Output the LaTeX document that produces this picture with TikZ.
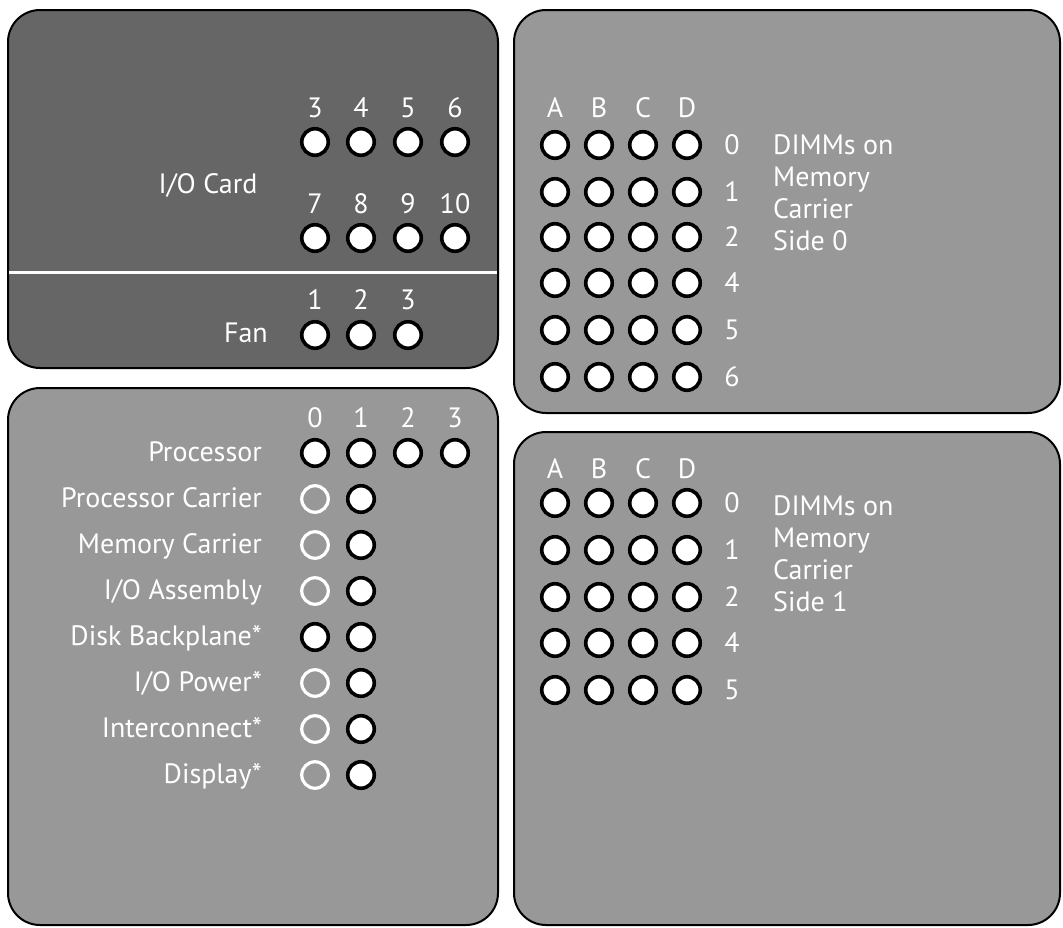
\documentclass[tikz,border=0pt]{standalone}
\usepackage{fontspec}
\setmainfont{PT Sans}
\usepackage{xcolor}
\usetikzlibrary{positioning}
\definecolor{paneldark}{HTML}{666666}
\definecolor{panellight}{HTML}{989898}

\begin{document}
\begin{tikzpicture}[x=1pt, y=-1pt, font=\fontsize{28}{32}\selectfont,
  panel/.style={draw=black, line width=2pt, rounded corners=32pt},
  led/.style={circle, draw=black, fill=white, line width=3.6pt, minimum size=26.5pt, inner sep=0},
  ledoff/.style={led, draw=white, fill=none, line width=3.2pt},
  num/.style={text=white, inner sep=0, anchor=base},
  rowlab/.style={text=white, inner sep=0, anchor=base east},
  blurb/.style={text=white, inner sep=0, anchor=base west, align=left}]
\useasboundingbox[fill=white] (0,0) rectangle (1063,927);
% Panel: I/O card and fans
\filldraw[panel, fill=paneldark] (8,10) rectangle (498,368);
\draw[white, line width=3pt] (9,272) -- (497,272);
\node[num] (iolab) at (208,193) {I/O Card};
\foreach \n/\x in {3/315,4/361,5/408,6/455} {
  \node[num] (ion\n) at (\x,117) {\n};
  \node[led] (io\n) at (\x,142) {};
}
\foreach \n/\x in {7/315,8/361,9/408,10/455} {
  \node[num] (ion\n) at (\x,213) {\n};
  \node[led] (io\n) at (\x,238) {};
}
\node[rowlab] (fanlab) at (268,342) {Fan};
\foreach \n/\x in {1/315,2/361,3/408} {
  \node[num] (fann\n) at (\x,309) {\n};
  \node[led] (fan\n) at (\x,335) {};
}
% Panel: processor and carriers
\filldraw[panel, fill=panellight] (8,388) rectangle (498,925);
\foreach \n/\x in {0/315,1/361,2/408,3/455} {
  \node[num] (procn\n) at (\x,427) {\n};
  \node[led] (proc\n) at (\x,453) {};
}
\node[rowlab] (proclab) at (262,461) {Processor};
\foreach \lab/\y/\st [count=\i] in {{Processor Carrier}/499/ledoff, {Memory Carrier}/545/ledoff,
    {I/O Assembly}/591/ledoff, {Disk Backplane*}/637/led, {I/O Power*}/683/ledoff,
    {Interconnect*}/729/ledoff, {Display*}/775/ledoff} {
  \node[rowlab] (fru\i) at (262,\y+8) {\lab};
  \node[\st] (fru\i a) at (315,\y) {};
  \node[led] (fru\i b) at (361,\y) {};
}
% Panel: DIMMs, side 0
\filldraw[panel, fill=panellight] (514,10) rectangle (1060,413);
\foreach \c/\x in {A/555,B/599,C/643,D/687} {
  \node[num] (s0\c) at (\x,117) {\c};
  \foreach \r/\y in {0/145,1/192,2/237,4/283,5/330,6/377}
    \node[led] (s0\c\r) at (\x,\y) {};
}
\foreach \r/\y in {0/145,1/192,2/237,4/283,5/330,6/377}
  \node[num] (s0row\r) at (732,\y+9) {\r};
\node[blurb] (s0lab) at (773,250) {DIMMs on\\Memory\\Carrier\\Side 0};
% Panel: DIMMs, side 1
\filldraw[panel, fill=panellight] (514,432) rectangle (1060,925);
\foreach \c/\x in {A/555,B/599,C/643,D/687} {
  \node[num] (s1\c) at (\x,478) {\c};
  \foreach \r/\y in {0/503,1/550,2/597,4/643,5/690}
    \node[led] (s1\c\r) at (\x,\y) {};
}
\foreach \r/\y in {0/503,1/550,2/597,4/643,5/690}
  \node[num] (s1row\r) at (732,\y+9) {\r};
\node[blurb] (s1lab) at (773,611) {DIMMs on\\Memory\\Carrier\\Side 1};
\end{tikzpicture}
\end{document}
